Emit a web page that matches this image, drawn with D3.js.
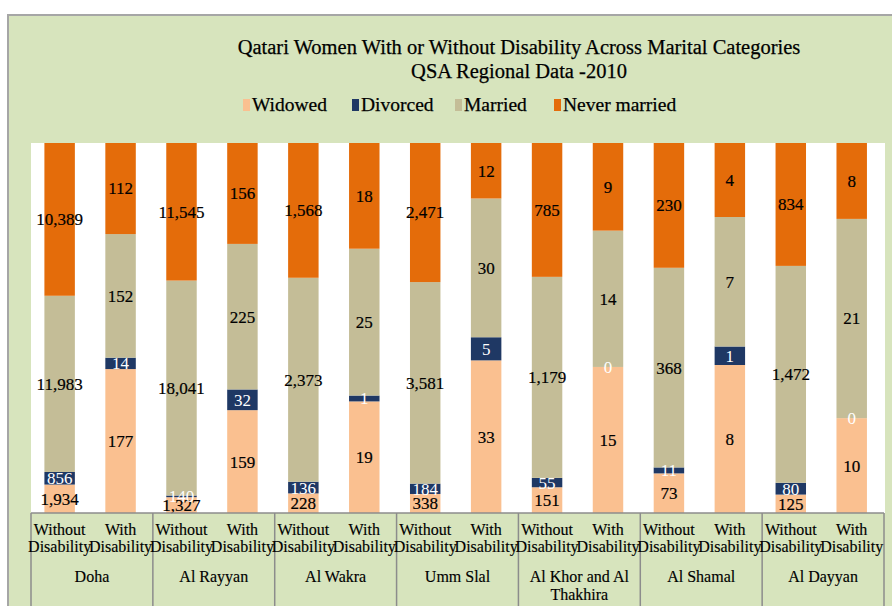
<!DOCTYPE html>
<html>
<head>
<meta charset="utf-8">
<script src="https://cdn.jsdelivr.net/npm/d3@7"></script>
<style>
  body { margin: 0; background: #fff; }
  text { font-family: "Liberation Serif", "Times New Roman", serif; }
</style>
</head>
<body>
<svg id="chart" width="892" height="606"></svg>
<script>
// chart data
const regions = ["Doha", "Al Rayyan", "Al Wakra", "Umm Slal", "Al Khor and Al Thakhira", "Al Shamal", "Al Dayyan"];
const groups = ["Without Disability", "With Disability"];
const seriesNames = ["Widowed", "Divorced", "Married", "Never married"];
// one value per bar: region by region, without then with disability
const widowed  = [1934, 177, 1327, 159, 228, 19, 338, 33, 151, 15, 73, 8, 125, 10];
const divorced = [856, 14, 140, 32, 136, 1, 184, 5, 55, 0, 11, 1, 80, 0];
const married  = [11983, 152, 18041, 225, 2373, 25, 3581, 30, 1179, 14, 368, 7, 1472, 21];
const neverMarried = [10389, 112, 11545, 156, 1568, 18, 2471, 12, 785, 9, 230, 4, 834, 8];

const colors = ["#fac090", "#1f3864", "#c4bd97", "#e46c0a"];

const svg = d3.select("#chart");
const fmt = d3.format(",");

// chart area background
svg.append("rect")
    .attr("x", 8).attr("y", 15)
    .attr("width", 900).attr("height", 600)
    .attr("fill", "#d7e4bd")
    .attr("stroke", "#a6a6a6").attr("stroke-width", 2);

const plot = {left: 31, right: 884, top: 143, bottom: 513};

svg.append("rect")
    .attr("x", plot.left).attr("y", plot.top)
    .attr("width", plot.right - plot.left + 1).attr("height", plot.bottom - plot.top)
    .attr("fill", "#fff");

// title
const title = svg.append("text")
    .attr("x", 519).attr("y", 54)
    .attr("text-anchor", "middle")
    .style("font-size", "20.5px").style("fill", "#000")
    .style("stroke", "#000").style("stroke-width", 0.25);
title.append("tspan").attr("x", 519).text("Qatari Women With or Without Disability Across Marital Categories");
title.append("tspan").attr("x", 519).attr("dy", 24).text("QSA Regional Data -2010");

// legend
const legendX = [243, 352, 455, 554];
const legend = svg.append("g");
seriesNames.forEach(function(name, i){
    legend.append("rect")
        .attr("x", legendX[i]).attr("y", 99)
        .attr("width", 7).attr("height", 12)
        .attr("fill", colors[i]);
    legend.append("text")
        .attr("x", legendX[i] + 9).attr("y", 111)
        .style("font-size", "19.5px").style("fill", "#000")
        .style("stroke", "#000").style("stroke-width", 0.25)
        .text(name);
});

// scales
const xRegion = d3.scaleBand()
    .domain(regions)
    .range([plot.left, plot.right]);

const xGroup = d3.scaleBand()
    .domain(groups)
    .range([0, xRegion.bandwidth()])
    .paddingInner(0.5)
    .paddingOuter(0.25)
    .align(0.44);

const yScale = d3.scaleLinear()
    .domain([0, 1])
    .range([plot.bottom, plot.top]);

// build rows for the stack
const rows = [];
regions.forEach(function(r, ri){
    groups.forEach(function(g, gi){
        const k = ri * 2 + gi;
        const total = widowed[k] + divorced[k] + married[k] + neverMarried[k];
        rows.push({
            region: r, group: g,
            raw: [widowed[k], divorced[k], married[k], neverMarried[k]],
            "Widowed": widowed[k] / total,
            "Divorced": divorced[k] / total,
            "Married": married[k] / total,
            "Never married": neverMarried[k] / total
        });
    });
});

const stacked = d3.stack().keys(seriesNames)(rows);

const barX = function(d){ return xRegion(d.data.region) + xGroup(d.data.group); };

const layers = svg.append("g")
    .selectAll("g")
    .data(stacked)
    .enter()
    .append("g")
    .attr("fill", function(d, i){ return colors[i]; });

layers.selectAll("rect")
    .data(function(d){ return d; })
    .enter()
    .append("rect")
    .attr("x", barX)
    .attr("width", xGroup.bandwidth())
    .attr("y", function(d){ return yScale(d[1]); })
    .attr("height", function(d){ return yScale(d[0]) - yScale(d[1]); });

// data labels, centred in each segment
const labels = svg.append("g");
stacked.forEach(function(layer, si){
    labels.selectAll(null)
        .data(layer)
        .enter()
        .append("text")
        .attr("x", function(d){ return barX(d) + xGroup.bandwidth() / 2; })
        .attr("y", function(d){ return yScale((d[0] + d[1]) / 2); })
        .attr("dy", "0.35em")
        .attr("text-anchor", "middle")
        .style("font-size", "17px")
        .style("fill", si == 1 ? "#fff" : "#000")
        .style("stroke", si == 1 ? "none" : "#000").style("stroke-width", 0.2)
        .text(function(d){ return fmt(d.data.raw[si]); });
});

// category table under the plot
const lineColor = "#8c8c8c";
svg.append("line")
    .attr("x1", plot.left).attr("x2", plot.right)
    .attr("y1", plot.bottom).attr("y2", plot.bottom)
    .attr("stroke", lineColor).attr("stroke-width", 1.5);

const bounds = regions.map(function(r){ return xRegion(r); }).concat([plot.right]);
svg.selectAll("line.sep")
    .data(bounds)
    .enter()
    .append("line")
    .attr("class", "sep")
    .attr("x1", function(d){ return d; }).attr("x2", function(d){ return d; })
    .attr("y1", plot.bottom).attr("y2", 606)
    .attr("stroke", lineColor).attr("stroke-width", 1.5);

// wrap helper: split words into lines no wider than maxW
const wrap = function(textSel, str, maxW, lineH){
    const words = str.split(" ");
    let line = [];
    let tspan = textSel.append("tspan").attr("x", textSel.attr("x")).attr("dy", 0);
    words.forEach(function(w){
        line.push(w);
        tspan.text(line.join(" "));
        if(tspan.node().getComputedTextLength() > maxW && line.length > 1){
            line.pop();
            tspan.text(line.join(" "));
            line = [w];
            tspan = textSel.append("tspan").attr("x", textSel.attr("x")).attr("dy", lineH).text(w);
        }
    });
};

regions.forEach(function(r){
    groups.forEach(function(g){
        const t = svg.append("text")
            .attr("x", xRegion(r) + xGroup(g) + xGroup.bandwidth() / 2)
            .attr("y", 535)
            .attr("text-anchor", "middle")
            .style("font-size", "16px").style("fill", "#000")
            .style("stroke", "#000").style("stroke-width", 0.15);
        wrap(t, g, 58, 17);
    });
    const rt = svg.append("text")
        .attr("x", xRegion(r) + xRegion.bandwidth() / 2)
        .attr("y", 582)
        .attr("text-anchor", "middle")
        .style("font-size", "16px").style("fill", "#000")
        .style("stroke", "#000").style("stroke-width", 0.15);
    wrap(rt, r, 108, 18);
});
</script>
</body>
</html>
